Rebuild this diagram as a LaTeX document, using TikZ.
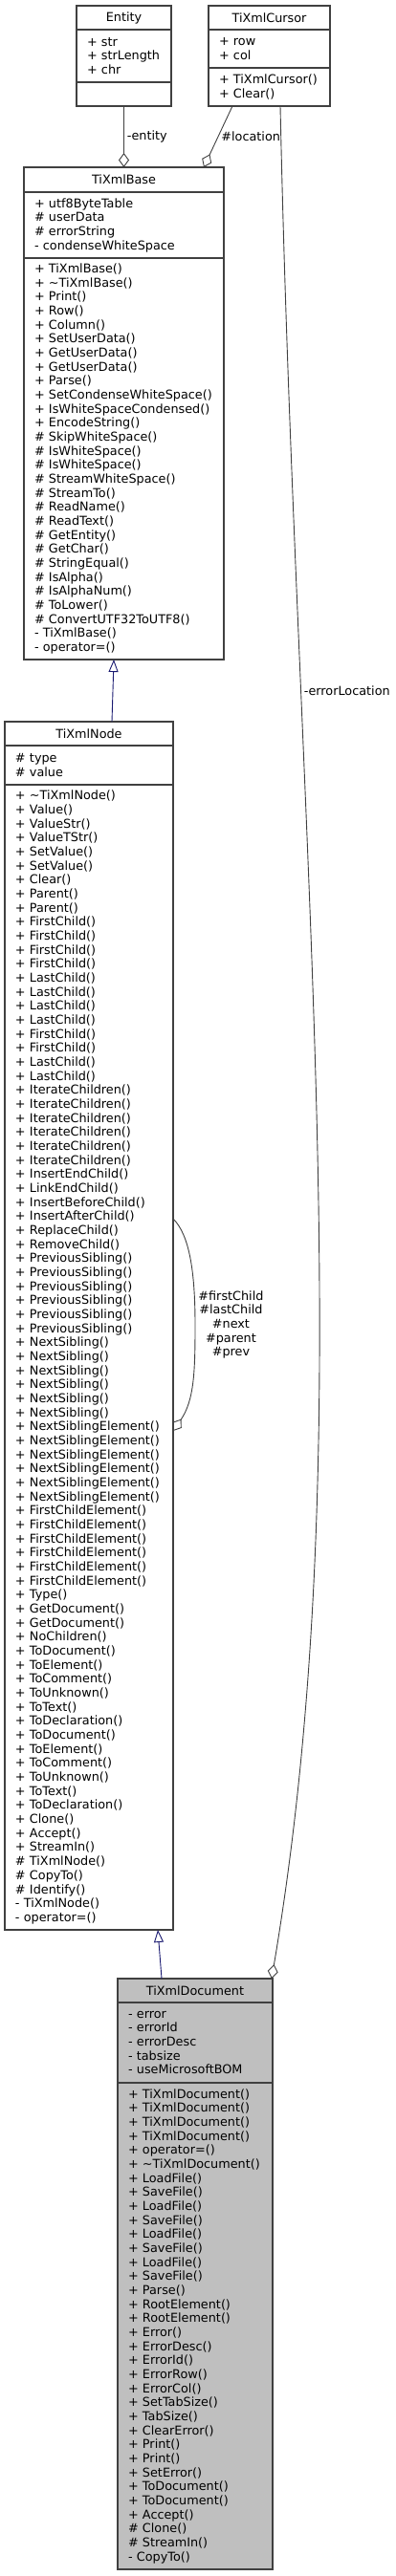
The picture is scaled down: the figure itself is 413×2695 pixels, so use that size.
\documentclass[tikz,border=0pt]{standalone}
\usepackage{fontspec}
\setmainfont{DejaVu Sans}
\usetikzlibrary{positioning,arrows.meta}
\definecolor{grey25}{HTML}{404040}
\definecolor{grey75}{HTML}{BFBFBF}
\definecolor{midnightblue}{HTML}{191970}

\begin{document}
\begin{tikzpicture}[x=1pt, y=-1pt,
  every node/.style={font=\fontsize{12.8}{14.67}\selectfont},
  part/.style={draw=black!75, line width=1.2pt, fill=white, inner xsep=11pt,
               inner ysep=0pt, outer sep=0pt, align=left},
  title/.style={part, align=center, minimum height=25pt},
  focus/.style={fill=grey75},
  aggr/.style={grey25, line width=0.9pt, -{Diamond[open, length=15pt, width=11pt]}},
  inherit/.style={midnightblue, line width=0.9pt, -{Triangle[open, length=13pt, width=10pt]}},
  lbl/.style={inner sep=3pt, align=center, text=black}]
\useasboundingbox (0,0) rectangle (413,2695);

% Entity
\node[title, text width=77pt, anchor=north west] (entity) at (80,6) {Entity};
\node[part, text width=77pt, minimum height=55pt, below=0pt of entity] (entity-attr)
  {+ str\\+ strLength\\+ chr};
\node[part, text width=77pt, minimum height=25pt, below=0pt of entity-attr] (entity-ops) {};

% TiXmlCursor
\node[title, text width=105pt, anchor=north west] (cursor) at (218,6) {TiXmlCursor};
\node[part, text width=105pt, minimum height=40pt, below=0pt of cursor] (cursor-attr)
  {+ row\\+ col};
\node[part, text width=105pt, minimum height=40pt, below=0pt of cursor-attr] (cursor-ops)
  {+ TiXmlCursor()\\+ Clear()};

% TiXmlBase
\node[title, text width=187pt, minimum height=26pt, anchor=north west] (tibase) at (25,175) {TiXmlBase};
\node[part, text width=187pt, minimum height=69pt, below=0pt of tibase] (tibase-attr)
  {+ utf8ByteTable\\\# userData\\\# errorString\\- condenseWhiteSpace};
\node[part, text width=187pt, minimum height=420pt, below=0pt of tibase-attr] (tibase-ops)
  {+ TiXmlBase()\\
   + \textasciitilde TiXmlBase()\\
   + Print()\\
   + Row()\\
   + Column()\\
   + SetUserData()\\
   + GetUserData()\\
   + GetUserData()\\
   + Parse()\\
   + SetCondenseWhiteSpace()\\
   + IsWhiteSpaceCondensed()\\
   + EncodeString()\\
   \# SkipWhiteSpace()\\
   \# IsWhiteSpace()\\
   \# IsWhiteSpace()\\
   \# StreamWhiteSpace()\\
   \# StreamTo()\\
   \# ReadName()\\
   \# ReadText()\\
   \# GetEntity()\\
   \# GetChar()\\
   \# StringEqual()\\
   \# IsAlpha()\\
   \# IsAlphaNum()\\
   \# ToLower()\\
   \# ConvertUTF32ToUTF8()\\
   - TiXmlBase()\\
   - operator=()};

% TiXmlNode
\node[title, text width=154pt, anchor=north west] (tinode) at (5,755) {TiXmlNode};
\node[part, text width=154pt, minimum height=41pt, below=0pt of tinode] (tinode-attr)
  {\# type\\\# value};
\node[part, text width=154pt, minimum height=1198pt, below=0pt of tinode-attr] (tinode-ops)
  {+ \textasciitilde TiXmlNode()\\
   + Value()\\
   + ValueStr()\\
   + ValueTStr()\\
   + SetValue()\\
   + SetValue()\\
   + Clear()\\
   + Parent()\\
   + Parent()\\
   + FirstChild()\\
   + FirstChild()\\
   + FirstChild()\\
   + FirstChild()\\
   + LastChild()\\
   + LastChild()\\
   + LastChild()\\
   + LastChild()\\
   + FirstChild()\\
   + FirstChild()\\
   + LastChild()\\
   + LastChild()\\
   + IterateChildren()\\
   + IterateChildren()\\
   + IterateChildren()\\
   + IterateChildren()\\
   + IterateChildren()\\
   + IterateChildren()\\
   + InsertEndChild()\\
   + LinkEndChild()\\
   + InsertBeforeChild()\\
   + InsertAfterChild()\\
   + ReplaceChild()\\
   + RemoveChild()\\
   + PreviousSibling()\\
   + PreviousSibling()\\
   + PreviousSibling()\\
   + PreviousSibling()\\
   + PreviousSibling()\\
   + PreviousSibling()\\
   + NextSibling()\\
   + NextSibling()\\
   + NextSibling()\\
   + NextSibling()\\
   + NextSibling()\\
   + NextSibling()\\
   + NextSiblingElement()\\
   + NextSiblingElement()\\
   + NextSiblingElement()\\
   + NextSiblingElement()\\
   + NextSiblingElement()\\
   + NextSiblingElement()\\
   + FirstChildElement()\\
   + FirstChildElement()\\
   + FirstChildElement()\\
   + FirstChildElement()\\
   + FirstChildElement()\\
   + FirstChildElement()\\
   + Type()\\
   + GetDocument()\\
   + GetDocument()\\
   + NoChildren()\\
   + ToDocument()\\
   + ToElement()\\
   + ToComment()\\
   + ToUnknown()\\
   + ToText()\\
   + ToDeclaration()\\
   + ToDocument()\\
   + ToElement()\\
   + ToComment()\\
   + ToUnknown()\\
   + ToText()\\
   + ToDeclaration()\\
   + Clone()\\
   + Accept()\\
   + StreamIn()\\
   \# TiXmlNode()\\
   \# CopyTo()\\
   \# Identify()\\
   - TiXmlNode()\\
   - operator=()};

% TiXmlDocument
\node[title, focus, text width=140pt, anchor=north west] (tidoc) at (123,2070) {TiXmlDocument};
\node[part, focus, text width=140pt, minimum height=84pt, below=0pt of tidoc] (tidoc-attr)
  {- error\\- errorId\\- errorDesc\\- tabsize\\- useMicrosoftBOM};
\node[part, focus, text width=140pt, minimum height=509pt, below=0pt of tidoc-attr] (tidoc-ops)
  {+ TiXmlDocument()\\
   + TiXmlDocument()\\
   + TiXmlDocument()\\
   + TiXmlDocument()\\
   + operator=()\\
   + \textasciitilde TiXmlDocument()\\
   + LoadFile()\\
   + SaveFile()\\
   + LoadFile()\\
   + SaveFile()\\
   + LoadFile()\\
   + SaveFile()\\
   + LoadFile()\\
   + SaveFile()\\
   + Parse()\\
   + RootElement()\\
   + RootElement()\\
   + Error()\\
   + ErrorDesc()\\
   + ErrorId()\\
   + ErrorRow()\\
   + ErrorCol()\\
   + SetTabSize()\\
   + TabSize()\\
   + ClearError()\\
   + Print()\\
   + Print()\\
   + SetError()\\
   + ToDocument()\\
   + ToDocument()\\
   + Accept()\\
   \# Clone()\\
   \# StreamIn()\\
   - CopyTo()};

% Aggregations
\draw[aggr] (entity-ops.south) -- (entity-ops.south |- tibase.north)
  node[lbl, midway, right] {-entity};
\draw[aggr] ([xshift=25pt]cursor-ops.south west) -- ([xshift=-21pt]tibase.north east)
  node[lbl, midway, right] {\#location};
\draw[aggr] ([xshift=75pt]cursor-ops.south west) .. controls (310,900) and (380,1500) ..
  ([xshift=-1pt]tidoc.north east) node[lbl, pos=0.275, right] {-errorLocation};

% Self relation of TiXmlNode
\draw[aggr] ([yshift=145pt]tinode-ops.east) .. controls (198,1292) and (204,1330) .. (204,1386)
  node[lbl, right] {\#firstChild\\\#lastChild\\\#next\\\#parent\\\#prev}
  .. controls (204,1435) and (203,1465) .. ([yshift=-77pt]tinode-ops.east);

% Inheritance
\draw[inherit] ([xshift=112pt]tinode.north west) -- ([xshift=94pt]tibase-ops.south west);
\draw[inherit] ([xshift=46pt]tidoc.north west) -- ([xshift=160pt]tinode-ops.south west);

\end{tikzpicture}
\end{document}
